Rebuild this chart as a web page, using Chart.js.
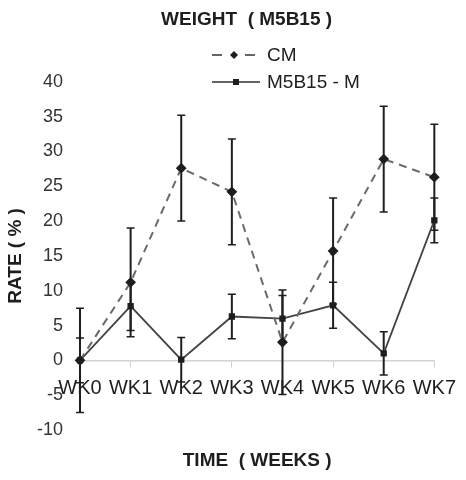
<!DOCTYPE html>
<html>
<head>
<meta charset="utf-8">
<script src="https://cdn.jsdelivr.net/npm/chart.js@4/dist/chart.umd.min.js"></script>
<style>
  html, body { margin: 0; padding: 0; background: #fff; }
  #wrap { width: 466px; height: 480px; }
</style>
</head>
<body>
<div id="wrap"><canvas id="chart"></canvas></div>
<script>
// values
const weeks = ['WK0', 'WK1', 'WK2', 'WK3', 'WK4', 'WK5', 'WK6', 'WK7'];
const cmRate = [0, 11.2, 27.6, 24.2, 2.6, 15.7, 28.9, 26.3];
const cmErr = [7.5, 7.8, 7.6, 7.6, 7.5, 7.6, 7.6, 7.6];
const mRate = [0, 7.8, 0.1, 6.3, 6.0, 7.9, 1.0, 20.1];
const mErr = [3.2, 3.5, 3.2, 3.2, 3.3, 3.3, 3.1, 3.2];
const yTicks = [-10, -5, 0, 5, 10, 15, 20, 25, 30, 35, 40];

const FONT = '"Liberation Sans", Arial, sans-serif';
const INK = '#1e1e1e';

// vertical error bars, drawn with the chart's own scales
const errorBars = {
  id: 'errorBars',
  beforeDatasetsDraw(chart) {
    const ctx = chart.ctx;
    const x = chart.scales.x, y = chart.scales.y;
    const sets = [[cmRate, cmErr], [mRate, mErr]];
    ctx.save();
    ctx.strokeStyle = INK;
    sets.forEach(([vals, errs]) => {
      vals.forEach((v, i) => {
        const px = x.getPixelForValue(i);
        const top = y.getPixelForValue(v + errs[i]);
        const bot = y.getPixelForValue(v - errs[i]);
        ctx.lineWidth = 2;
        ctx.beginPath();
        ctx.moveTo(px, top); ctx.lineTo(px, bot);
        ctx.stroke();
        ctx.lineWidth = 1.5;
        ctx.beginPath();
        ctx.moveTo(px - 4, top); ctx.lineTo(px + 4, top);
        ctx.moveTo(px - 4, bot); ctx.lineTo(px + 4, bot);
        ctx.stroke();
      });
    });
    ctx.restore();
  }
};

// two-row legend like the original figure
const legendRows = {
  id: 'legendRows',
  afterDraw(chart) {
    const ctx = chart.ctx;
    ctx.save();
    ctx.fillStyle = INK;
    ctx.strokeStyle = '#666';
    ctx.lineWidth = 2;
    // CM
    ctx.beginPath();
    ctx.moveTo(212, 55); ctx.lineTo(222, 55);
    ctx.moveTo(245, 55); ctx.lineTo(255, 55);
    ctx.stroke();
    ctx.beginPath();
    ctx.moveTo(234, 51); ctx.lineTo(238, 55); ctx.lineTo(234, 59); ctx.lineTo(230, 55);
    ctx.closePath();
    ctx.fill();
    // M5B15 - M
    ctx.strokeStyle = '#333';
    ctx.lineWidth = 1.6;
    ctx.beginPath();
    ctx.moveTo(212, 82); ctx.lineTo(260, 82);
    ctx.stroke();
    ctx.fillRect(233, 79, 6, 6);
    ctx.font = '19px ' + FONT;
    ctx.textBaseline = 'middle';
    ctx.fillText('CM', 267, 56);
    ctx.fillText('M5B15 - M', 267, 83);
    ctx.restore();
  }
};

new Chart(document.getElementById('chart'), {
  type: 'line',
  data: {
    labels: weeks,
    datasets: [
      {
        label: 'CM',
        data: cmRate,
        xAxisID: 'x',
        borderColor: '#6a6a6a',
        borderWidth: 2,
        borderDash: [8, 6],
        pointStyle: 'rectRot',
        pointRadius: 4,
        pointBackgroundColor: INK,
        pointBorderColor: INK,
        tension: 0
      },
      {
        label: 'M5B15 - M',
        data: mRate,
        xAxisID: 'x',
        borderColor: '#444',
        borderWidth: 1.8,
        pointStyle: 'rect',
        pointRadius: 3.2,
        pointBackgroundColor: INK,
        pointBorderColor: INK,
        tension: 0
      }
    ]
  },
  options: {
    responsive: true,
    maintainAspectRatio: false,
    animation: false,
    layout: { padding: { left: 0, right: 23, top: 0, bottom: 0 } },
    plugins: {
      legend: { display: false },
      tooltip: { enabled: false },
      title: {
        display: true,
        fullSize: false,
        text: 'WEIGHT  ( M5B15 )    ',
        color: INK,
        font: { family: FONT, size: 19, weight: 'bold' },
        padding: { top: 8, bottom: 51 }
      }
    },
    scales: {
      x: {
        type: 'category',
        position: { y: 0 },
        offset: false,
        grid: { display: true, drawOnChartArea: false, drawTicks: true, tickLength: 6, color: '#cfcfcf' },
        border: { display: true, color: '#d2d2d2', width: 1.5, dash: [9, 6] },
        ticks: { color: INK, font: { family: FONT, size: 20 }, padding: 10, maxRotation: 0, autoSkip: false }
      },
      xTitle: {
        type: 'category',
        axis: 'x',
        position: 'bottom',
        grid: { display: false, drawTicks: false },
        border: { display: false },
        ticks: { display: false },
        title: {
          display: true,
          text: 'TIME  ( WEEKS )',
          color: INK,
          font: { family: FONT, size: 19, weight: 'bold' },
          padding: { top: 4, bottom: 8 }
        },
        afterFit(scale) { scale.height = 50; }
      },
      y: {
        min: -10,
        max: 40,
        afterBuildTicks(scale) { scale.ticks = yTicks.map(v => ({ value: v })); },
        grid: { display: false, drawTicks: false },
        border: { display: false },
        ticks: { color: '#333', font: { family: FONT, size: 18 }, padding: 17 },
        title: {
          display: true,
          text: 'RATE ( % )',
          color: INK,
          font: { family: FONT, size: 19, weight: 'bold' },
          padding: { top: 4, bottom: 4 }
        },
        afterFit(scale) { scale.width = 80; }
      }
    }
  },
  plugins: [errorBars, legendRows]
});
</script>
</body>
</html>
